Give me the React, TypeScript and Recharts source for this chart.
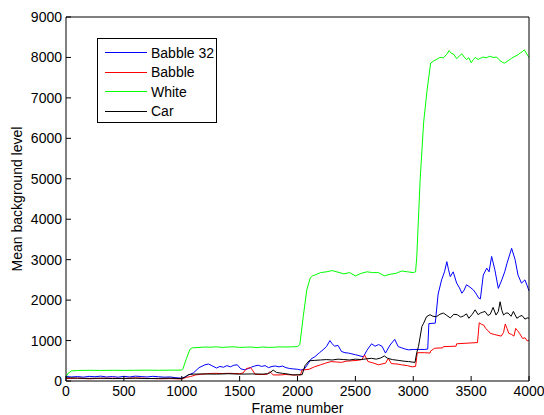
import React from "react";
import { LineChart, Line, XAxis, YAxis, Legend } from "recharts";

const FONT = '"Liberation Sans", Arial, Helvetica, sans-serif';

const xTicks = [0, 500, 1000, 1500, 2000, 2500, 3000, 3500, 4000];
const yTicks = [0, 1000, 2000, 3000, 4000, 5000, 6000, 7000, 8000, 9000];

const seriesNames = ["Babble 32", "Babble", "White", "Car"];
const seriesColors = ["#0000ff", "#ff0000", "#00ff00", "#000000"];

// Babble 32 (blue)
const babble32Frames = [
  0, 50, 100, 150, 200, 250, 300, 350, 400, 450,
  500, 550, 600, 650, 700, 750, 800, 850, 900, 950,
  1000, 1030, 1060, 1100, 1150, 1200, 1230, 1260, 1300, 1330,
  1360, 1390, 1420, 1450, 1480, 1510, 1540, 1570, 1600, 1630,
  1660, 1690, 1720, 1750, 1780, 1810, 1840, 1870, 1900, 1930,
  1960, 2000, 2030, 2060, 2090, 2120, 2150, 2190, 2220, 2250,
  2280, 2300, 2320, 2350, 2380, 2410, 2440, 2470, 2500, 2540,
  2570, 2600, 2640, 2670, 2700, 2730, 2760, 2800, 2840, 2870,
  2900, 2930, 2960, 3000, 3050, 3100, 3125, 3135, 3190, 3215,
  3245, 3270, 3290, 3305, 3320, 3345, 3375, 3400, 3420, 3440,
  3460, 3490, 3520, 3545, 3565, 3580, 3605, 3635, 3655, 3677,
  3705, 3735, 3765, 3790, 3810, 3850, 3880, 3905, 3935, 3965,
  3985, 4000,
];
const babble32Values = [
  110, 100, 110, 95, 115, 105, 120, 100, 110, 95,
  115, 100, 120, 110, 100, 115, 105, 95, 100, 80,
  70, 100, 150, 200, 330, 400, 420, 380, 320, 360,
  340, 380, 350, 390, 400, 300, 280, 300, 340, 370,
  390, 360, 380, 330, 360, 370, 350, 370, 330, 310,
  300, 290, 270, 300, 420, 550, 600, 700, 770, 850,
  1000, 920, 860, 880, 730, 700, 690, 670, 650, 620,
  600, 760, 920, 860, 900, 860, 690, 890, 1030, 850,
  820, 790, 770, 780, 780, 780, 790, 1420, 1430, 2150,
  2500, 2700, 2950, 2750, 2580, 2700, 2420, 2300, 2170, 2250,
  2380, 2320, 2250, 2150, 2050, 2030, 2620, 2790, 2700, 3080,
  2750, 2290, 2500, 2700, 2910, 3280, 3000, 2620, 2420, 2500,
  2350, 2230,
];

// Babble (red)
const babbleFrames = [
  0, 100, 200, 300, 400, 500, 600, 700, 800, 900,
  1000, 1040, 1075, 1120, 1160, 1220, 1280, 1350, 1420, 1500,
  1530, 1560, 1595, 1615, 1635, 1700, 1740, 1762, 1790, 1850,
  1900, 1950, 2000, 2025, 2040, 2100, 2150, 2200, 2240, 2290,
  2340, 2380, 2420, 2470, 2520, 2555, 2580, 2610, 2650, 2700,
  2730, 2760, 2785, 2810, 2860, 2900, 2950, 2990, 3020, 3035,
  3100, 3145, 3150, 3185, 3255, 3260, 3370, 3375, 3555, 3570,
  3590, 3610, 3625, 3645, 3665, 3700, 3760, 3780, 3795, 3810,
  3825, 3850, 3870, 3885, 3900, 3920, 3945, 3965, 3985, 4000,
];
const babbleValues = [
  60, 70, 55, 65, 70, 60, 75, 65, 55, 60,
  50, 90, 110, 150, 165, 180, 190, 185, 190, 180,
  200, 310, 330, 250, 165, 160, 170, 230, 150, 150,
  160, 150, 150, 150, 270, 290, 355, 400, 440, 480,
  470, 460, 490, 500, 510, 530, 640, 480, 450, 400,
  420, 440, 560, 430, 420, 400, 380, 350, 360, 700,
  700, 690, 740, 810, 820, 850, 860, 920, 950, 1440,
  1400, 1380, 1300, 1250, 1180, 1150, 1110, 1200, 1410, 1300,
  1180, 1150, 1110, 1300, 1250, 1170, 1050, 1070, 990, 1010,
];

// White (green)
const whiteFrames = [
  0, 20, 50, 100, 200, 300, 400, 500, 600, 700,
  800, 900, 1000, 1010, 1040, 1070, 1090, 1150, 1200, 1250,
  1300, 1350, 1400, 1450, 1500, 1550, 1600, 1650, 1700, 1750,
  1800, 1850, 1900, 1950, 2000, 2020, 2050, 2080, 2110, 2130,
  2150, 2200, 2250, 2300, 2350, 2400, 2450, 2500, 2550, 2600,
  2650, 2700, 2750, 2800, 2850, 2900, 2950, 3000, 3020, 3030,
  3060, 3090, 3120, 3150, 3180, 3200, 3230, 3260, 3290, 3310,
  3330, 3350, 3375, 3400, 3420, 3440, 3460, 3480, 3500, 3520,
  3535, 3560, 3580, 3605, 3630, 3660, 3690, 3720, 3750, 3770,
  3790, 3820, 3850, 3880, 3900, 3925, 3945, 3960, 3975, 4000,
];
const whiteValues = [
  100, 200, 250, 260, 265, 260, 265, 262, 265, 268,
  265, 268, 270, 300, 550, 780, 820, 830, 840, 835,
  845, 830, 840, 845, 830, 835, 840, 825, 840, 830,
  835, 845, 840, 845, 850, 900, 1600, 2250, 2550, 2600,
  2620, 2680, 2700, 2730, 2690, 2650, 2680, 2600, 2660, 2700,
  2680, 2680, 2600, 2640, 2660, 2720, 2700, 2680, 2700, 3050,
  5000, 6400, 7200, 7860, 7920, 7950, 8000, 7990, 8080, 8170,
  8100, 8080, 7970, 8040, 8090, 8010, 7950, 7990, 7870, 7950,
  8000, 7950, 7980, 8010, 7990, 8030, 8000, 8010, 7920, 7880,
  7860, 7920, 7980, 8030, 8060, 8110, 8150, 8190, 8110, 8000,
];

// Car (black)
const carFrames = [
  0, 100, 200, 300, 400, 500, 600, 700, 800, 900,
  1000, 1030, 1060, 1100, 1200, 1300, 1400, 1500, 1600, 1700,
  1740, 1760, 1790, 1820, 1870, 1920, 1960, 2040, 2065, 2100,
  2150, 2200, 2250, 2300, 2350, 2400, 2450, 2500, 2550, 2600,
  2640, 2680, 2720, 2750, 2780, 2820, 2870, 2920, 2960, 3015,
  3030, 3045, 3075, 3090, 3115, 3145, 3170, 3200, 3230, 3260,
  3290, 3320, 3350, 3380, 3410, 3435, 3460, 3480, 3510, 3535,
  3560, 3580, 3600, 3620, 3645, 3665, 3690, 3715, 3735, 3750,
  3765, 3780, 3800, 3820, 3845, 3865, 3895, 3920, 3940, 3965,
  3985, 4000,
];
const carValues = [
  80, 70, 65, 70, 60, 65, 70, 60, 65, 70,
  60, 100, 160, 170, 175, 170, 180, 170, 175, 170,
  180, 200, 270, 210, 190, 170, 150, 155, 380, 500,
  510, 520, 530, 520, 540, 530, 520, 540, 530, 550,
  560, 540, 570, 620, 560, 530, 510, 490, 480, 460,
  700, 850, 1350, 1430, 1590, 1640, 1600, 1590, 1650, 1680,
  1620, 1560, 1650, 1640, 1580, 1610, 1660, 1550, 1650, 1760,
  1640, 1680, 1700, 1720, 1620, 1650, 1820, 1630, 1720, 1960,
  1750, 1630, 1680, 1680, 1600, 1720, 1550, 1600, 1620, 1530,
  1560, 1550,
];

const toPoints = (frames: number[], values: number[]) =>
  frames.map((frame, i) => ({ frame, value: values[i] }));

const seriesData = [
  toPoints(babble32Frames, babble32Values),
  toPoints(babbleFrames, babbleValues),
  toPoints(whiteFrames, whiteValues),
  toPoints(carFrames, carValues),
];

function LegendBox() {
  return (
    <div
      style={{
        position: "relative",
        width: 120,
        height: 85,
        border: "1px solid #000",
        boxSizing: "border-box",
        background: "#fff",
        fontFamily: FONT,
        fontSize: 14,
        color: "#000",
      }}
    >
      {seriesNames.map((name, i) => (
        <div
          key={name}
          style={{
            position: "absolute",
            left: 7,
            top: 4 + i * 19.5,
            height: 19,
            display: "flex",
            alignItems: "center",
            whiteSpace: "nowrap",
          }}
        >
          <svg width={42} height={3} style={{ display: "block" }}>
            <line x1={0} y1={1.5} x2={42} y2={1.5} stroke={seriesColors[i]} strokeWidth={1} />
          </svg>
          <span style={{ marginLeft: 4 }}>{name}</span>
        </div>
      ))}
    </div>
  );
}

const tickStyle = { fontSize: 14, fill: "#000", fontFamily: FONT };

export default function App() {
  return (
    <div style={{ position: "absolute", left: 0, top: 0, width: 544, height: 415, background: "#fff" }}>
      <LineChart width={544} height={415} margin={{ top: 16, right: 14, bottom: 0, left: 0 }}>
        <XAxis
          dataKey="frame"
          type="number"
          domain={[0, 4000]}
          ticks={xTicks}
          interval={0}
          height={34}
          tickSize={-5}
          tickMargin={10}
          tick={tickStyle}
          axisLine={{ stroke: "#000" }}
          tickLine={{ stroke: "#000" }}
          label={(props: any) => {
            const vb = props.viewBox;
            return (
              <text
                x={vb.x + vb.width / 2}
                y={vb.y + 32}
                textAnchor="middle"
                fontSize={14}
                fontFamily={FONT}
                fill="#000"
              >
                Frame number
              </text>
            );
          }}
        />
        <XAxis
          xAxisId="top"
          orientation="top"
          dataKey="frame"
          type="number"
          domain={[0, 4000]}
          allowDataOverflow
          ticks={xTicks}
          height={1}
          tickSize={-5}
          tick={false}
          axisLine={{ stroke: "#000" }}
          tickLine={{ stroke: "#000" }}
        />
        <YAxis
          type="number"
          domain={[0, 9000]}
          ticks={yTicks}
          interval={0}
          width={66}
          tickSize={-5}
          tickMargin={9}
          tick={tickStyle}
          axisLine={{ stroke: "#000" }}
          tickLine={{ stroke: "#000" }}
          label={(props: any) => {
            const vb = props.viewBox;
            const cx = vb.x + 17;
            const cy = vb.y + vb.height / 2;
            return (
              <text
                x={cx}
                y={cy}
                transform={`rotate(-90, ${cx}, ${cy})`}
                textAnchor="middle"
                dominantBaseline="central"
                fontSize={14}
                fontFamily={FONT}
                fill="#000"
              >
                Mean background level
              </text>
            );
          }}
        />
        <YAxis
          yAxisId="right"
          orientation="right"
          type="number"
          domain={[0, 9000]}
          allowDataOverflow
          ticks={yTicks}
          width={1}
          tickSize={-5}
          tick={false}
          axisLine={{ stroke: "#000" }}
          tickLine={{ stroke: "#000" }}
        />
        {seriesData.map((points, i) => (
          <Line
            key={seriesNames[i]}
            data={points}
            dataKey="value"
            name={seriesNames[i]}
            type="linear"
            stroke={seriesColors[i]}
            strokeWidth={1}
            dot={false}
            activeDot={false}
            isAnimationActive={false}
          />
        ))}
        <Legend
          layout="vertical"
          align="center"
          verticalAlign="middle"
          wrapperStyle={{ left: 97, top: 38, width: 120, height: 85 }}
          content={() => <LegendBox />}
        />
      </LineChart>
    </div>
  );
}
